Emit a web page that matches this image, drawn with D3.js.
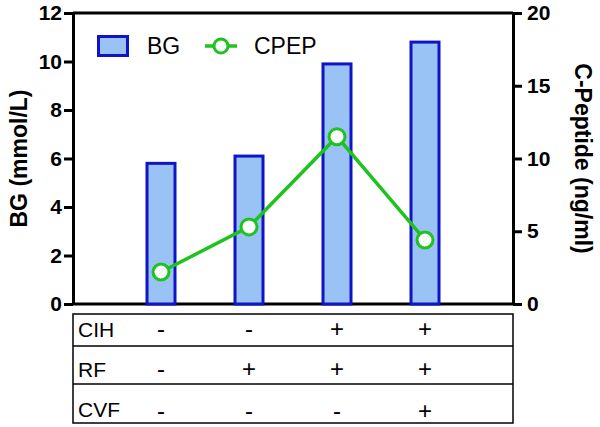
<!DOCTYPE html>
<html>
<head>
<meta charset="utf-8">
<script src="https://cdn.jsdelivr.net/npm/d3@7"></script>
<style>
  body { margin: 0; background: #fff; }
  svg { display: block; font-family: Arial, "Liberation Sans", sans-serif; }
</style>
</head>
<body>
<div class="chart"></div>
<script>
// data
var groups = ["g1", "g2", "g3", "g4"];
var bgValues = [5.8, 6.1, 9.9, 10.8];
var cpepValues = [2.2, 5.3, 11.5, 4.4];
var bgTicks = [0, 2, 4, 6, 8, 10, 12];
var cpepTicks = [0, 5, 10, 15, 20];
var rowLabels = ["CIH", "RF", "CVF"];
var rowSigns = [
  ["-", "-", "+", "+"],
  ["-", "+", "+", "+"],
  ["-", "-", "-", "+"]
];

var width = 600;
var height = 427;
var margin = { top: 13, right: 87, bottom: 123, left: 73 };
var plotBottom = height - margin.bottom;   // 304
var plotRight = width - margin.right;      // 513

var blueStroke = "#0f14c8";
var blueFill = "#99c3f5";
var green = "#1ec31e";

var svg = d3.select(".chart")
  .append("svg")
  .attr("width", width)
  .attr("height", height);

var x = d3.scalePoint()
  .domain(groups)
  .range([margin.left, plotRight])
  .padding(1);

var yLeft = d3.scaleLinear().domain([0, 12]).range([plotBottom, margin.top]);
var yRight = d3.scaleLinear().domain([0, 20]).range([plotBottom, margin.top]);

// garis atas dan bawah
svg.append("line")
  .attr("x1", margin.left).attr("x2", plotRight)
  .attr("y1", margin.top).attr("y2", margin.top)
  .attr("stroke", "#000").attr("stroke-width", 3);
svg.append("line")
  .attr("x1", margin.left).attr("x2", plotRight)
  .attr("y1", plotBottom).attr("y2", plotBottom)
  .attr("stroke", "#000").attr("stroke-width", 3);

// bars
var barW = 28;
svg.selectAll(".bar")
  .data(bgValues)
  .enter().append("rect")
  .attr("class", "bar")
  .attr("x", function(d, i) { return x(groups[i]) - barW / 2; })
  .attr("y", function(d) { return yLeft(d); })
  .attr("width", barW)
  .attr("height", function(d) { return plotBottom - yLeft(d); })
  .attr("fill", blueFill)
  .attr("stroke", blueStroke)
  .attr("stroke-width", 3);

// axes
var leftAxis = svg.append("g")
  .attr("transform", "translate(" + margin.left + ",0)")
  .call(d3.axisLeft(yLeft).tickValues(bgTicks).tickSize(9).tickPadding(2).tickSizeOuter(0));
var rightAxis = svg.append("g")
  .attr("transform", "translate(" + plotRight + ",0)")
  .call(d3.axisRight(yRight).tickValues(cpepTicks).tickSize(9).tickPadding(5).tickSizeOuter(0));

[leftAxis, rightAxis].forEach(function(a) {
  a.selectAll("path, line").attr("stroke", "#000").attr("stroke-width", 3);
  a.selectAll("text")
    .attr("fill", "#000")
    .style("font-size", "21px")
    .style("font-weight", "bold");
});

// line CPEP
var line = d3.line()
  .x(function(d, i) { return x(groups[i]); })
  .y(function(d) { return yRight(d); });

svg.append("path")
  .datum(cpepValues)
  .attr("d", line)
  .attr("fill", "none")
  .attr("stroke", green)
  .attr("stroke-width", 3.5);

svg.selectAll(".dot")
  .data(cpepValues)
  .enter().append("circle")
  .attr("class", "dot")
  .attr("cx", function(d, i) { return x(groups[i]); })
  .attr("cy", function(d) { return yRight(d); })
  .attr("r", 8)
  .attr("fill", "#fff")
  .attr("stroke", green)
  .attr("stroke-width", 3);

// axis titles
svg.append("text")
  .attr("transform", "translate(27," + ((margin.top + plotBottom) / 2) + ") rotate(-90)")
  .attr("text-anchor", "middle")
  .style("font-size", "23px")
  .style("font-weight", "bold")
  .text("BG (mmol/L)");

svg.append("text")
  .attr("transform", "translate(575," + ((margin.top + plotBottom) / 2) + ") rotate(90)")
  .attr("text-anchor", "middle")
  .style("font-size", "23px")
  .style("font-weight", "bold")
  .text("C-Peptide (ng/ml)");

// legend
var legend = svg.append("g");
legend.append("rect")
  .attr("x", 98.5).attr("y", 36.5)
  .attr("width", 29).attr("height", 19)
  .attr("fill", blueFill).attr("stroke", blueStroke).attr("stroke-width", 3);
legend.append("text")
  .attr("x", 147).attr("y", 54)
  .style("font-size", "23px")
  .text("BG");
legend.append("line")
  .attr("x1", 205).attr("x2", 237).attr("y1", 46).attr("y2", 46)
  .attr("stroke", green).attr("stroke-width", 3.5);
legend.append("circle")
  .attr("cx", 221).attr("cy", 46).attr("r", 7)
  .attr("fill", "#fff").attr("stroke", green).attr("stroke-width", 3);
legend.append("text")
  .attr("x", 254).attr("y", 54)
  .style("font-size", "23px")
  .text("CPEP");

// table under the plot
var rowEdges = [314, 346, 384, 423];
var table = svg.append("g");
table.append("rect")
  .attr("x", margin.left).attr("y", rowEdges[0])
  .attr("width", plotRight - margin.left).attr("height", rowEdges[3] - rowEdges[0])
  .attr("fill", "none").attr("stroke", "#000").attr("stroke-width", 1.5);
[rowEdges[1], rowEdges[2]].forEach(function(yy) {
  table.append("line")
    .attr("x1", margin.left).attr("x2", plotRight)
    .attr("y1", yy).attr("y2", yy)
    .attr("stroke", "#000").attr("stroke-width", 1.5);
});

var labelBase = [337, 377, 417];
var signBase = [337, 377, 419];
rowLabels.forEach(function(lab, r) {
  table.append("text")
    .attr("x", 78).attr("y", labelBase[r])
    .style("font-size", "21px")
    .text(lab);
  rowSigns[r].forEach(function(s, i) {
    table.append("text")
      .attr("x", x(groups[i])).attr("y", signBase[r])
      .attr("text-anchor", "middle")
      .style("font-size", "24px")
      .text(s);
  });
});
</script>
</body>
</html>
